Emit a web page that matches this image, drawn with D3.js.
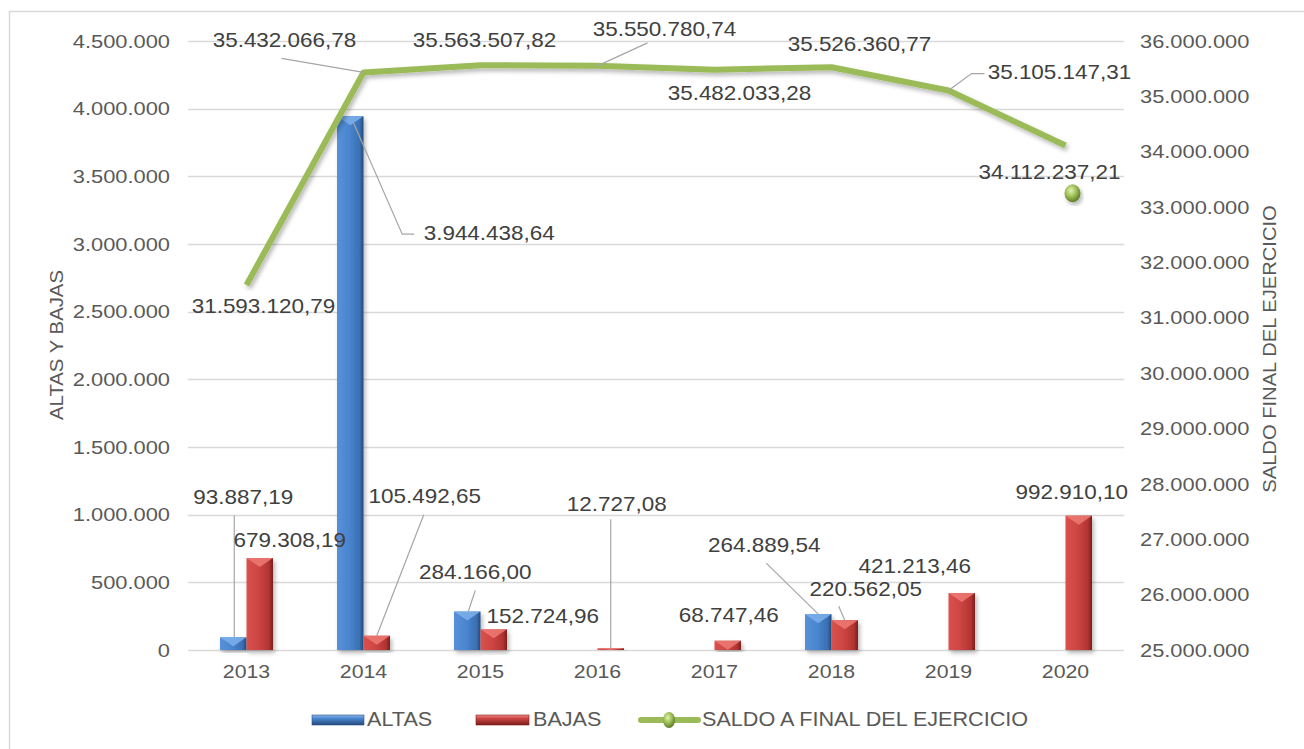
<!DOCTYPE html>
<html>
<head>
<meta charset="utf-8">
<script src="https://cdn.jsdelivr.net/npm/d3@7"></script>
<style>
    body { margin: 0; background: #fff; }
    svg { font-family: "Liberation Sans", Arial, sans-serif; }
</style>
</head>
<body>
<svg id="chart" width="1304" height="749"></svg>
<script>
// chart values
var years = ['2013', '2014', '2015', '2016', '2017', '2018', '2019', '2020'];
var altas = [93887.19, 3944438.64, 284166.00, null, null, 264889.54, null, null];
var bajas = [679308.19, 105492.65, 152724.96, 12727.08, 68747.46, 220562.05, 421213.46, 992910.10];
var saldo = [31593120.79, 35432066.78, 35563507.82, 35550780.74, 35482033.28, 35526360.77, 35105147.31, 34112237.21];
// the original shows a lone marker below the end of the line
var saldoMarker = [{year: '2020', value: 33250000}];
var leftTicks = [0, 500000, 1000000, 1500000, 2000000, 2500000, 3000000, 3500000, 4000000, 4500000];
var rightTicks = [25000000, 26000000, 27000000, 28000000, 29000000, 30000000, 31000000, 32000000, 33000000, 34000000, 35000000, 36000000];
var legendLabels = ['ALTAS', 'BAJAS', 'SALDO A FINAL DEL EJERCICIO'];
var axisTitles = ['ALTAS Y BAJAS', 'SALDO FINAL DEL EJERCICIO'];

// label placement: [dx, dy] of text centre from the anchor, then optional leader points
var altasLabelPos = [
    {t: [10, -139], lead: [[1, -122], [1, 0]]},
    {t: [139, 118], lead: [[64, 118], [52, 118], [3, 6]]},
    {t: [8, -38], lead: [[8, -21], [1, 0]]},
    null, null,
    {t: [-54, -68], lead: [[-52, -51], [0, 0]]},
    null, null
];
var bajasLabelPos = [
    {t: [30, -17]},
    {t: [48, -138], lead: [[47, -121], [0, 0]]},
    {t: [49, -12]},
    {t: [6, -143], lead: [[0, -129], [0, 0]]},
    {t: [1, -24]},
    {t: [21, -30], lead: [[-6, -14], [0, 0]]},
    {t: [-47, -26]},
    {t: [-7, -22]}
];
var saldoLabelPos = [
    {t: [17, 22]},
    {t: [-79, -31], lead: [[-82, -14], [0, 0]]},
    {t: [4, -24]},
    {t: [67, -35], lead: [[50, -23], [0, 0]]},
    {t: [25, 25]},
    {t: [28, -22]},
    {t: [111, -17], lead: [[36, -17], [23, -17], [0, 0]]},
    {t: [-16, 28]}
];

var es = d3.formatLocale({decimal: ',', thousands: '.', grouping: [3], currency: ['', '']});
var fmtVal = es.format(',.2f');
var fmtTick = es.format(',');

var svg = d3.select('#chart');
var W = 1304, H = 749;
var plot = {left: 188, right: 1124, top: 41, bottom: 650};

var x = d3.scaleBand().domain(years).range([plot.left, plot.right]);
var yL = d3.scaleLinear().domain([0, 4500000]).range([plot.bottom, plot.top]);
var yR = d3.scaleLinear().domain([25000000, 36000000]).range([plot.bottom, plot.top]);
var barW = x.bandwidth() * 0.2265;

function cx(year) { return x(year) + x.bandwidth() / 2; }

// the source text is drawn a little wider than the plain font
function stretch(sel, k) {
    sel.each(function() {
        var w = this.getComputedTextLength();
        d3.select(this).attr('textLength', w * k).attr('lengthAdjust', 'spacingAndGlyphs');
    });
}

var defs = svg.append('defs');

function gradient(id, vertical, stops) {
    var g = defs.append('linearGradient').attr('id', id)
        .attr('x1', '0%').attr('y1', '0%')
        .attr('x2', vertical ? '0%' : '100%').attr('y2', vertical ? '100%' : '0%');
    stops.forEach(function(s) {
        g.append('stop').attr('offset', s[0]).attr('stop-color', s[1]);
    });
}
gradient('gBlue', false, [['0%', '#5791D8'], ['45%', '#4A86CF'], ['85%', '#3A6FB2'], ['100%', '#224B7C']]);
gradient('gRed', false, [['0%', '#D9524E'], ['45%', '#CD4542'], ['85%', '#B13431'], ['100%', '#7A1D1B']]);
gradient('lBlue', true, [['0%', '#8DB8EC'], ['35%', '#4A86CF'], ['100%', '#22497A']]);
gradient('lRed', true, [['0%', '#F08A86'], ['35%', '#CD4542'], ['100%', '#7A1D1B']]);

var rg = defs.append('radialGradient').attr('id', 'gDot')
    .attr('cx', '40%').attr('cy', '35%').attr('r', '65%');
rg.append('stop').attr('offset', '0%').attr('stop-color', '#E2F0B8');
rg.append('stop').attr('offset', '45%').attr('stop-color', '#A6C760');
rg.append('stop').attr('offset', '100%').attr('stop-color', '#5F7D26');

var shadow = defs.append('filter').attr('id', 'shadow')
    .attr('x', '-20%').attr('y', '-20%').attr('width', '140%').attr('height', '140%');
shadow.append('feDropShadow').attr('dx', 2).attr('dy', 3).attr('stdDeviation', 2)
    .attr('flood-color', '#000').attr('flood-opacity', 0.28);

// outer frame
svg.append('rect')
    .attr('x', 9.5).attr('y', 11.5)
    .attr('width', W + 20).attr('height', H + 20)
    .attr('fill', 'none').attr('stroke', '#D9D9D9').attr('stroke-width', 1.5);

// gridlines
svg.append('g').selectAll('line')
    .data(leftTicks)
    .enter().append('line')
    .attr('x1', plot.left).attr('x2', plot.right)
    .attr('y1', function(d) { return Math.round(yL(d)) + 0.5; })
    .attr('y2', function(d) { return Math.round(yL(d)) + 0.5; })
    .attr('stroke', '#D9D9D9').attr('stroke-width', 1.3);

// left axis
var axisL = svg.append('g')
    .attr('transform', 'translate(' + (plot.left - 18) + ',0)')
    .call(d3.axisLeft(yL).tickValues(leftTicks).tickFormat(fmtTick).tickSize(0).tickPadding(0));
axisL.select('.domain').remove();
axisL.selectAll('text').attr('fill', '#595959').style('font-size', '19px')
    .style('font-family', '"Liberation Sans", Arial, sans-serif')
    .call(stretch, 1.15);

// right axis
var axisR = svg.append('g')
    .attr('transform', 'translate(' + (plot.right + 16) + ',0)')
    .call(d3.axisRight(yR).tickValues(rightTicks).tickFormat(fmtTick).tickSize(0).tickPadding(0));
axisR.select('.domain').remove();
axisR.selectAll('text').attr('fill', '#595959').style('font-size', '19px')
    .style('font-family', '"Liberation Sans", Arial, sans-serif')
    .call(stretch, 1.15);

// category labels
svg.append('g').selectAll('text')
    .data(years)
    .enter().append('text')
    .attr('x', cx).attr('y', plot.bottom + 23)
    .attr('text-anchor', 'middle').attr('dominant-baseline', 'middle')
    .attr('fill', '#595959').style('font-size', '19px')
    .text(function(d) { return d; })
    .call(stretch, 1.12);

// axis titles
svg.append('text')
    .attr('transform', 'translate(58,345) rotate(-90)')
    .attr('text-anchor', 'middle').attr('dominant-baseline', 'middle')
    .attr('fill', '#595959').style('font-size', '18px')
    .text(axisTitles[0])
    .call(stretch, 1.13);
svg.append('text')
    .attr('transform', 'translate(1271,349) rotate(-90)')
    .attr('text-anchor', 'middle').attr('dominant-baseline', 'middle')
    .attr('fill', '#595959').style('font-size', '18px')
    .text(axisTitles[1])
    .call(stretch, 1.12);

// bars
function drawBars(values, offset, fill, bevel) {
    var rows = years.map(function(y, i) { return {year: y, value: values[i]}; })
        .filter(function(d) { return d.value != null; });
    var g = svg.append('g');
    var bar = g.selectAll('g').data(rows).enter().append('g');
    bar.append('rect')
        .attr('x', function(d) { return cx(d.year) + offset; })
        .attr('y', function(d) { return yL(d.value); })
        .attr('width', barW)
        .attr('height', function(d) { return plot.bottom - yL(d.value); })
        .attr('fill', 'url(#' + fill + ')')
        .attr('filter', 'url(#shadow)');
    bar.append('path')
        .attr('d', function(d) {
            var x0 = cx(d.year) + offset, y0 = yL(d.value);
            var h = Math.min(9, plot.bottom - y0);
            return 'M' + x0 + ',' + y0 + 'L' + (x0 + barW) + ',' + y0 +
                'L' + (x0 + barW / 2) + ',' + (y0 + h) + 'Z';
        })
        .attr('fill', bevel).attr('opacity', 0.85);
}
drawBars(altas, -barW, 'gBlue', '#7DB0EC');
drawBars(bajas, 0, 'gRed', '#EE7A76');

// saldo line
var line = d3.line()
    .x(function(d, i) { return cx(years[i]); })
    .y(function(d) { return yR(d); });
svg.append('path')
    .datum(saldo)
    .attr('d', line)
    .attr('fill', 'none')
    .attr('stroke', '#9BBB59').attr('stroke-width', 6)
    .attr('stroke-linejoin', 'round')
    .attr('filter', 'url(#shadow)');

svg.append('g').selectAll('ellipse')
    .data(saldoMarker)
    .enter().append('ellipse')
    .attr('cx', function(d) { return cx(d.year) + 7; })
    .attr('cy', function(d) { return yR(d.value); })
    .attr('rx', 8).attr('ry', 9)
    .attr('fill', 'url(#gDot)')
    .attr('filter', 'url(#shadow)');

// data labels
var labelLayer = svg.append('g');
function drawLabels(values, pos, anchorFn) {
    values.forEach(function(v, i) {
        var p = pos[i];
        if (v == null || !p) return;
        var a = anchorFn(i, v);
        if (p.lead) {
            labelLayer.append('polyline')
                .attr('points', p.lead.map(function(o) { return (a[0] + o[0]) + ',' + (a[1] + o[1]); }).join(' '))
                .attr('fill', 'none').attr('stroke', '#A6A6A6').attr('stroke-width', 1.2);
        }
        labelLayer.append('text')
            .attr('x', a[0] + p.t[0]).attr('y', a[1] + p.t[1])
            .attr('text-anchor', 'middle').attr('dominant-baseline', 'middle')
            .attr('fill', '#404040').style('font-size', '21px')
            .text(fmtVal(v))
            .call(stretch, 1.07);
    });
}
drawLabels(altas, altasLabelPos, function(i, v) { return [cx(years[i]) - barW / 2, yL(v)]; });
drawLabels(bajas, bajasLabelPos, function(i, v) { return [cx(years[i]) + barW / 2, yL(v)]; });
drawLabels(saldo, saldoLabelPos, function(i, v) { return [cx(years[i]), yR(v)]; });

// legend
var legend = svg.append('g').attr('transform', 'translate(0,720)');
legend.append('rect').attr('x', 312).attr('y', -5).attr('width', 52).attr('height', 10)
    .attr('fill', 'url(#lBlue)').attr('stroke', '#2B5283').attr('stroke-width', 0.6);
legend.append('rect').attr('x', 476).attr('y', -5).attr('width', 53).attr('height', 10)
    .attr('fill', 'url(#lRed)').attr('stroke', '#7A1D1B').attr('stroke-width', 0.6);
legend.append('line').attr('x1', 641).attr('x2', 698).attr('y1', 0).attr('y2', 0)
    .attr('stroke', '#9BBB59').attr('stroke-width', 6).attr('stroke-linecap', 'round');
legend.append('ellipse').attr('cx', 669).attr('cy', 0).attr('rx', 6).attr('ry', 8)
    .attr('fill', 'url(#gDot)');
var legendX = [367, 533, 702];
legend.selectAll('text.lg')
    .data(legendLabels)
    .enter().append('text')
    .attr('class', 'lg')
    .attr('x', function(d, i) { return legendX[i]; }).attr('y', 1)
    .attr('dominant-baseline', 'middle')
    .attr('fill', '#595959').style('font-size', '20px')
    .text(function(d) { return d; })
    .call(stretch, 1.08);
</script>
</body>
</html>
